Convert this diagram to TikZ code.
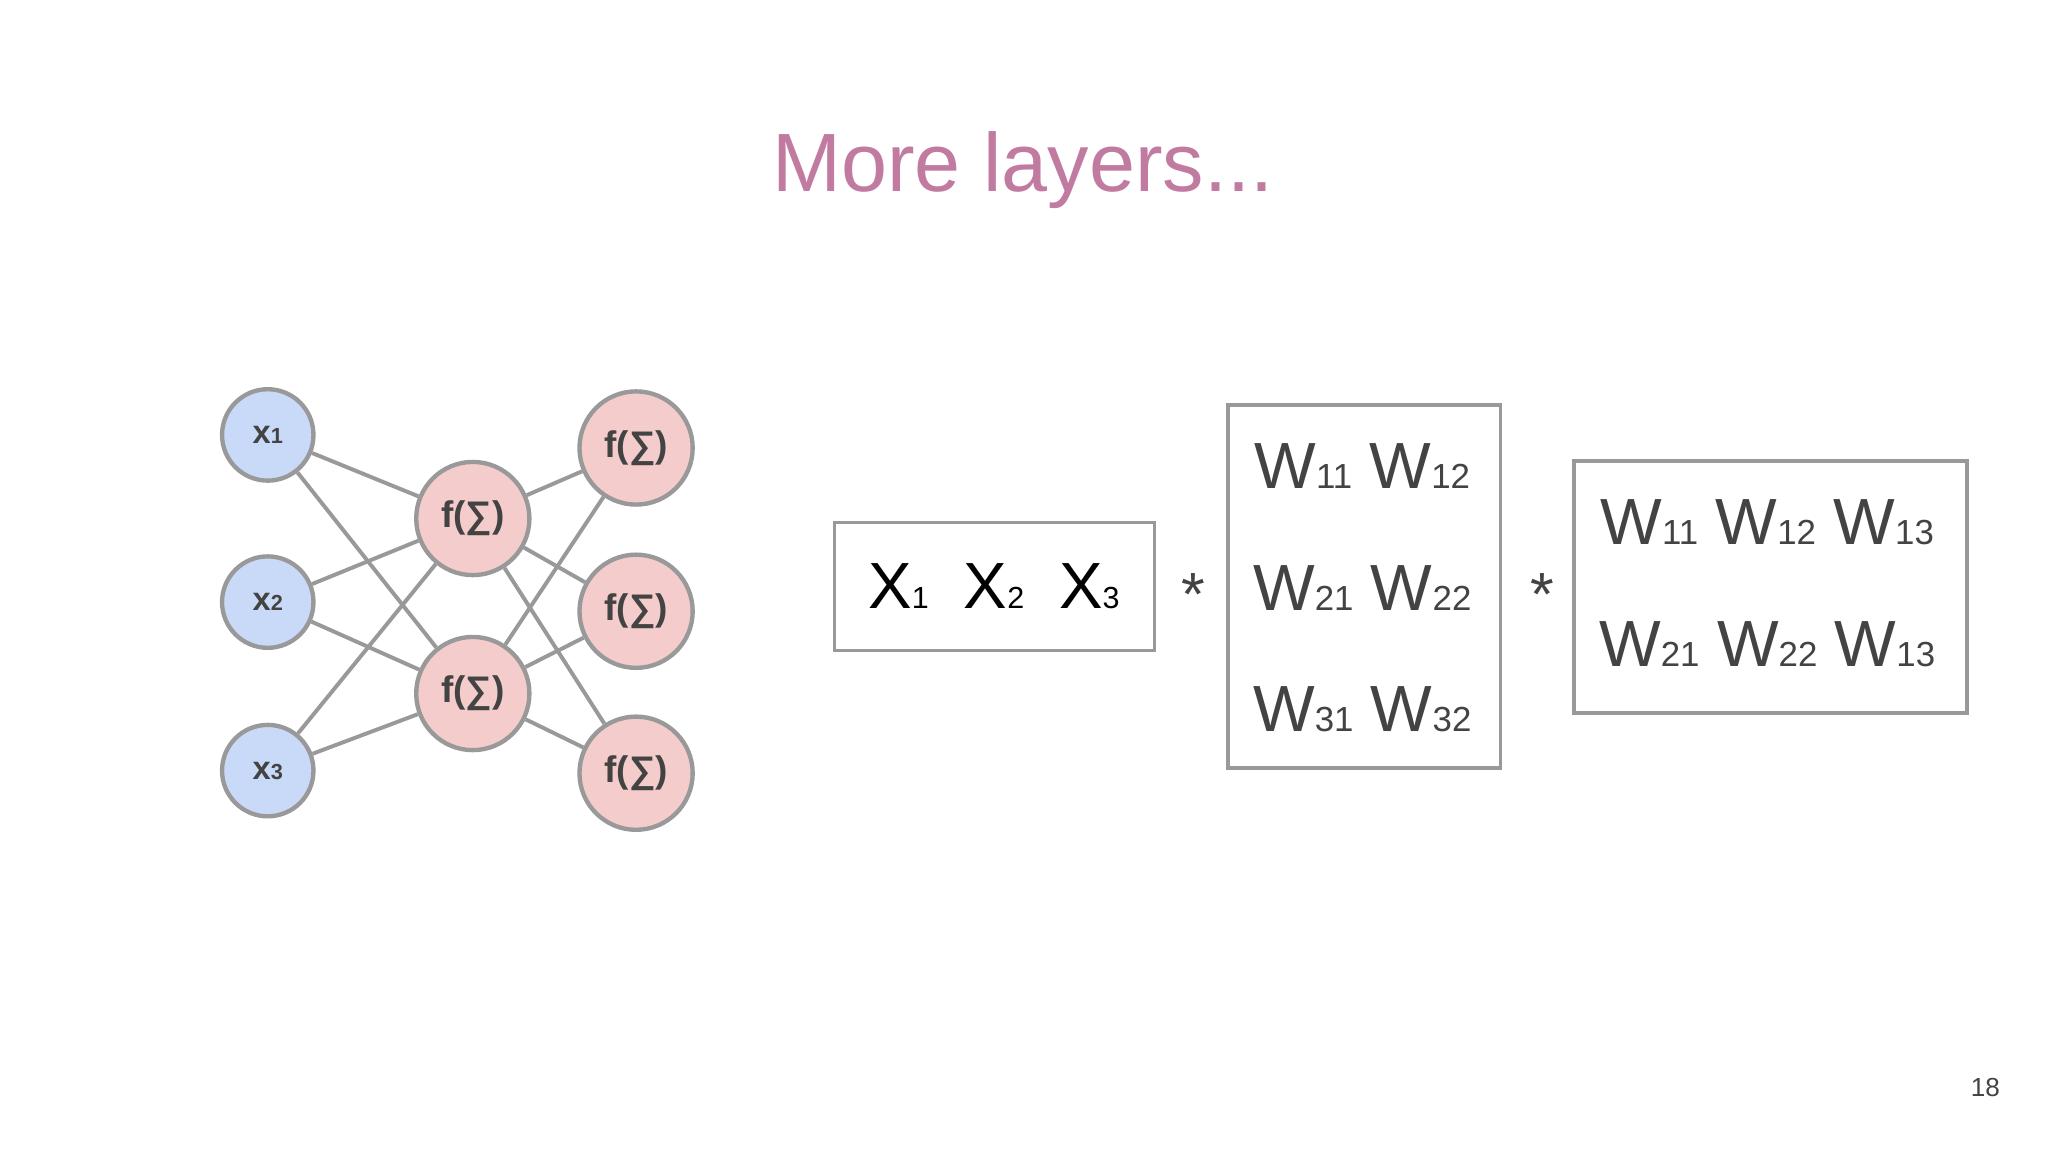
\documentclass[tikz,border=0pt]{standalone}
\usepackage{fontspec}
\setmainfont{Liberation Sans}
\definecolor{ln}{HTML}{999999}
\definecolor{inb}{HTML}{C9DAF8}
\definecolor{hid}{HTML}{F4CCCC}
\definecolor{tx}{HTML}{434343}
\definecolor{ttl}{HTML}{C27BA0}
\newcommand{\Wm}[1]{W{\fontsize{8}{9}\selectfont #1}}
\newcommand{\Xm}[1]{X{\fontsize{7}{8}\selectfont #1}}
\begin{document}
\begin{tikzpicture}[x=0.3pt,y=-0.3pt,
  inn/.style={circle,draw=ln,line width=1pt,fill=inb,minimum size=21pt,inner sep=0pt,font=\fontsize{7.5}{8}\selectfont\bfseries,text=tx},
  hn/.style={circle,draw=ln,line width=1pt,fill=hid,minimum size=26pt,inner sep=0pt,font=\fontsize{8.5}{9}\selectfont\bfseries,text=tx},
  ed/.style={ln,line width=0.9pt},
  mbox/.style={draw=ln,line width=0.8pt}]
\useasboundingbox (0,0) rectangle (1568,882);
\fill[white] (0,0) rectangle (1568,882);
\node[text=ttl,font=\fontsize{19}{22}\selectfont] (title) at (783,130) {More layers...};
\node[text=tx,font=\fontsize{6}{7}\selectfont] (pg) at (1520,833) {18};
\node[inn] (x1) at (205,333) {x{\fontsize{5}{6}\selectfont 1}};
\node[inn] (x2) at (205,461) {x{\fontsize{5}{6}\selectfont 2}};
\node[inn] (x3) at (205,590) {x{\fontsize{5}{6}\selectfont 3}};
\node[hn] (h1) at (362,397) {f(∑)};
\node[hn] (h2) at (362,531) {f(∑)};
\node[hn] (o1) at (487,343) {f(∑)};
\node[hn] (o2) at (487,468) {f(∑)};
\node[hn] (o3) at (487,592) {f(∑)};
\begin{scope}[on background layer/.style={}]
\end{scope}
\foreach \a in {x1,x2,x3}{\foreach \b in {h1,h2}{\draw[ed] (\a) -- (\b);}}
\foreach \a in {h1,h2}{\foreach \b in {o1,o2,o3}{\draw[ed] (\a) -- (\b);}}
\draw[mbox] (639,400) rectangle (884,498);
\node[font=\fontsize{15}{17}\selectfont] (xv) at (761,449) {\Xm{1}\hspace{8pt}\Xm{2}\hspace{8pt}\Xm{3}};
\node[text=tx,font=\fontsize{14}{16}\selectfont] (s1) at (914,455) {*};
\node[text=tx,font=\fontsize{14}{16}\selectfont] (s2) at (1181,455) {*};
\draw[mbox] (940,310) rectangle (1149,588);
\begin{scope}[every node/.style={text=tx,font=\fontsize{15}{17}\selectfont}]
\node (w1) at (1043,357) {\Wm{11}\hspace{4pt}\Wm{12}};
\node (w2) at (1043,450) {\Wm{21}\hspace{4pt}\Wm{22}};
\node (w3) at (1043,543) {\Wm{31}\hspace{4pt}\Wm{32}};
\node (v1) at (1353,400) {\Wm{11}\hspace{4pt}\Wm{12}\hspace{4pt}\Wm{13}};
\node (v2) at (1353,493) {\Wm{21}\hspace{4pt}\Wm{22}\hspace{4pt}\Wm{13}};
\end{scope}
\draw[mbox] (1205,353) rectangle (1506,546);
\end{tikzpicture}
\end{document}
